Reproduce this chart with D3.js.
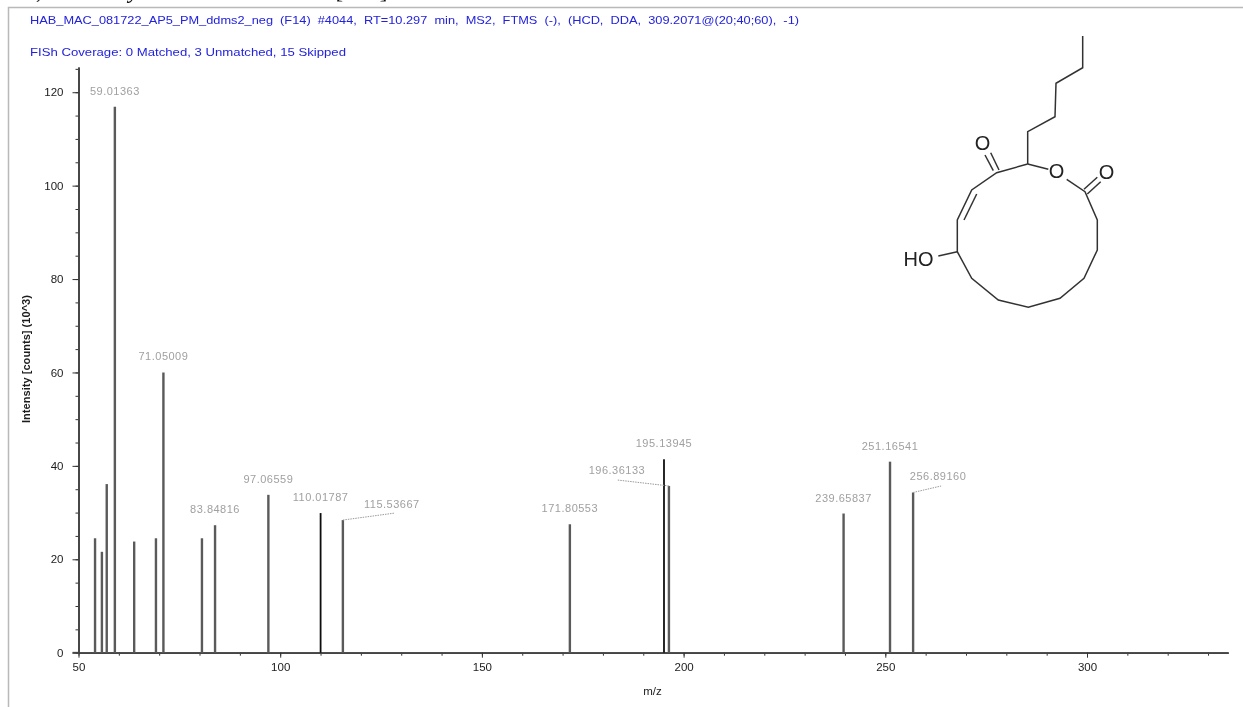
<!DOCTYPE html>
<html>
<head>
<meta charset="utf-8">
<script src="https://cdn.jsdelivr.net/npm/d3@7"></script>
<style>
  html, body { margin: 0; padding: 0; background: #fff; }
  svg { display: block; }
  text { font-family: "Liberation Sans", Arial, sans-serif; }
</style>
</head>
<body>
<div id="chart"></div>
<script>
// peaks
const peakMz = [54.1, 55.8, 57.0, 59.01363, 63.8, 69.2, 71.05009, 80.6, 83.84816, 97.06559, 110.01787, 115.53667, 171.80553, 195.13945, 196.36133, 239.65837, 251.16541, 256.8916];
const peakIntensity = [24.5, 21.6, 36.1, 116.9, 23.8, 24.5, 60.0, 24.5, 27.3, 33.8, 29.9, 28.4, 27.5, 41.4, 35.7, 29.8, 40.9, 34.3];
const peakLabels = [null, null, null, "59.01363", null, null, "71.05009", null, "83.84816", "97.06559", "110.01787", "115.53667", "171.80553", "195.13945", "196.36133", "239.65837", "251.16541", "256.89160"];
const darkPeaks = ["110.01787", "195.13945"];

const xTickLabels = [50, 100, 150, 200, 250, 300];
const yTickLabels = [0, 20, 40, 60, 80, 100, 120];

const headerLine = "HAB_MAC_081722_AP5_PM_ddms2_neg  (F14)  #4044,  RT=10.297  min,  MS2,  FTMS  (-),  (HCD,  DDA,  309.2071@(20;40;60),  -1)";
const coverageLine = "FISh Coverage: 0 Matched, 3 Unmatched, 15 Skipped";
const clippedCaption = "o, et al ya obactetacin [36]";

// labels that sit away from their peak and get a dotted leader (offsets in px from peak top)
const leaderOffsets = {
  "115.53667": [49, -16.5],
  "196.36133": [-52, -15.5],
  "256.89160": [25, -16]
};

const w = 1243;
const h = 707;

const xScale = d3.scaleLinear().domain([50, 335]).range([78.5, 1228.2]);
const yScale = d3.scaleLinear().domain([0, 125.4]).range([652.7, 67]);

const svg = d3.select("#chart").append("svg").attr("width", w).attr("height", h);

// slight blur, the source is a scaled down screenshot
const blur = svg.append("defs").append("filter").attr("id", "soft")
  .attr("filterUnits", "userSpaceOnUse")
  .attr("x", 0).attr("y", 0)
  .attr("width", w).attr("height", h);
blur.append("feGaussianBlur").attr("stdDeviation", 0.45);

const root = svg.append("g").attr("filter", "url(#soft)");

// window frame
root.append("path")
  .attr("d", `M8.5,${h}V7.5H${w}`)
  .attr("fill", "none")
  .attr("stroke", "#b9b9b9")
  .attr("stroke-width", 1.5);

root.append("text")
  .attr("x", 20).attr("y", -2)
  .attr("font-size", 23)
  .style("font-family", "'Liberation Serif', serif")
  .style("font-style", "italic")
  .attr("textLength", 370)
  .attr("fill", "#111")
  .text(clippedCaption);

root.append("text")
  .attr("x", 30).attr("y", 24)
  .attr("xml:space", "preserve")
  .style("white-space", "pre")
  .attr("font-size", 11.4)
  .attr("textLength", 769)
  .attr("lengthAdjust", "spacingAndGlyphs")
  .attr("fill", "#2222dd")
  .text(headerLine);

root.append("text")
  .attr("x", 30).attr("y", 56)
  .attr("font-size", 11.4)
  .attr("textLength", 316)
  .attr("lengthAdjust", "spacingAndGlyphs")
  .attr("fill", "#2222dd")
  .text(coverageLine);

// axes: minor ticks first, then the labelled ones
const yMinor = d3.axisLeft(yScale).tickValues(d3.range(0, 126, 5)).tickSizeInner(3).tickSizeOuter(0).tickFormat("");
const yMajor = d3.axisLeft(yScale).tickValues(yTickLabels).tickSizeInner(6).tickSizeOuter(0).tickPadding(9).tickFormat(d3.format("d"));
const xMinor = d3.axisBottom(xScale).tickValues(d3.range(50, 331, 10)).tickSizeInner(3).tickSizeOuter(0).tickFormat("");
const xMajor = d3.axisBottom(xScale).tickValues(xTickLabels).tickSizeInner(5).tickSizeOuter(0).tickPadding(5).tickFormat(d3.format("d"));

const yAxisX = xScale(50);
const xAxisY = yScale(0);

[yMinor, yMajor].forEach(axis => {
  root.append("g").attr("class", "axis").attr("transform", `translate(${yAxisX},0)`).call(axis);
});
[xMinor, xMajor].forEach(axis => {
  root.append("g").attr("class", "axis").attr("transform", `translate(0,${xAxisY})`).call(axis);
});

root.selectAll(".axis path.domain").attr("stroke", "#444").attr("stroke-width", 1.7);
root.selectAll(".axis line").attr("stroke", "#333").attr("stroke-width", 1);
root.selectAll(".axis text").attr("font-size", 11.5).attr("fill", "#1c1c1c")
  .style("font-family", "'Liberation Sans', Arial, sans-serif");

// x axis pokes a little past the y axis on the left
root.append("line")
  .attr("x1", yAxisX - 6).attr("x2", yAxisX)
  .attr("y1", xAxisY).attr("y2", xAxisY)
  .attr("stroke", "#444").attr("stroke-width", 1.7);

root.append("text")
  .attr("x", xScale(192.3)).attr("y", 694.5)
  .attr("text-anchor", "middle")
  .attr("font-size", 11.5)
  .attr("fill", "#1c1c1c")
  .text("m/z");

root.append("text")
  .attr("transform", "translate(30,359) rotate(-90)")
  .attr("text-anchor", "middle")
  .attr("font-size", 10.5)
  .attr("font-weight", "bold")
  .attr("textLength", 128)
  .attr("lengthAdjust", "spacingAndGlyphs")
  .attr("fill", "#1c1c1c")
  .text("Intensity [counts] (10^3)");

// peaks
const peaks = peakMz.map((mz, i) => ({ mz, value: peakIntensity[i], label: peakLabels[i] }));

root.selectAll(".peak")
  .data(peaks)
  .enter()
  .append("line")
  .attr("class", "peak")
  .attr("x1", d => xScale(d.mz))
  .attr("x2", d => xScale(d.mz))
  .attr("y1", xAxisY)
  .attr("y2", d => yScale(d.value))
  .attr("stroke", d => darkPeaks.includes(d.label) ? "#111" : "#5a5a5a")
  .attr("stroke-width", d => darkPeaks.includes(d.label) ? 1.8 : 2.4);

const labelled = peaks.filter(d => d.label);

root.selectAll(".peak-label")
  .data(labelled)
  .enter()
  .append("text")
  .attr("class", "peak-label")
  .attr("x", d => xScale(d.mz) + (leaderOffsets[d.label] ? leaderOffsets[d.label][0] : 0))
  .attr("y", d => yScale(d.value) + (leaderOffsets[d.label] ? leaderOffsets[d.label][1] : -16) + 4)
  .attr("text-anchor", "middle")
  .attr("font-size", 11)
  .attr("letter-spacing", 0.5)
  .attr("fill", "#a0a0a0")
  .text(d => d.label);

root.selectAll(".leader")
  .data(labelled.filter(d => leaderOffsets[d.label]))
  .enter()
  .append("line")
  .attr("class", "leader")
  .attr("x1", d => xScale(d.mz))
  .attr("y1", d => yScale(d.value))
  .attr("x2", d => xScale(d.mz) + leaderOffsets[d.label][0] + (leaderOffsets[d.label][0] > 0 ? 3 : 0))
  .attr("y2", d => yScale(d.value) + leaderOffsets[d.label][1] + 9.5)
  .attr("stroke", "#999")
  .attr("stroke-width", 1)
  .attr("stroke-dasharray", "1.5,1");

// structure drawing in the top right corner
const hexylChain = [[1082.7, 36], [1082.7, 67.7], [1056, 83.3], [1055, 116.7], [1027.7, 131.7], [1027.7, 164]];
const ringToOxygen = [[1027.7, 164], [1048.3, 169.3]];
const ringBackbone = [[1066.7, 179.3], [1085, 191.7], [1097.3, 220], [1097.3, 250], [1084, 278.3], [1060, 298.3], [1028.3, 307.3], [998.3, 300], [971.7, 278.3], [957.3, 251.7], [957.3, 220], [971.7, 190], [996.7, 172.7], [1027.7, 164]];
const alkeneInner = [[964, 220], [976.7, 194]];
const ketoneBonds = [[[993.3, 170.7], [985, 155]], [[999, 170], [990.7, 152.7]]];
const esterBonds = [[[1084, 189.3], [1097.3, 177.3]], [[1087.3, 194], [1100.7, 181.7]]];
const hydroxylBond = [[957.3, 251.7], [938.3, 256]];
const atomLabels = [
  { text: "O", x: 982.5, y: 142.5 },
  { text: "O", x: 1056.5, y: 171 },
  { text: "O", x: 1106.5, y: 172 },
  { text: "HO", x: 918.5, y: 258.5 }
];

const bondLine = d3.line();
const structure = root.append("g").attr("fill", "none").attr("stroke", "#333").attr("stroke-width", 1.5);
[hexylChain, ringToOxygen, ringBackbone, alkeneInner, ...ketoneBonds, ...esterBonds, hydroxylBond].forEach(bond => {
  structure.append("path").attr("d", bondLine(bond));
});

root.selectAll(".atom")
  .data(atomLabels)
  .enter()
  .append("text")
  .attr("class", "atom")
  .attr("x", d => d.x)
  .attr("y", d => d.y)
  .attr("text-anchor", "middle")
  .attr("dominant-baseline", "central")
  .attr("font-size", 20)
  .attr("fill", "#222")
  .text(d => d.text);
</script>
</body>
</html>
